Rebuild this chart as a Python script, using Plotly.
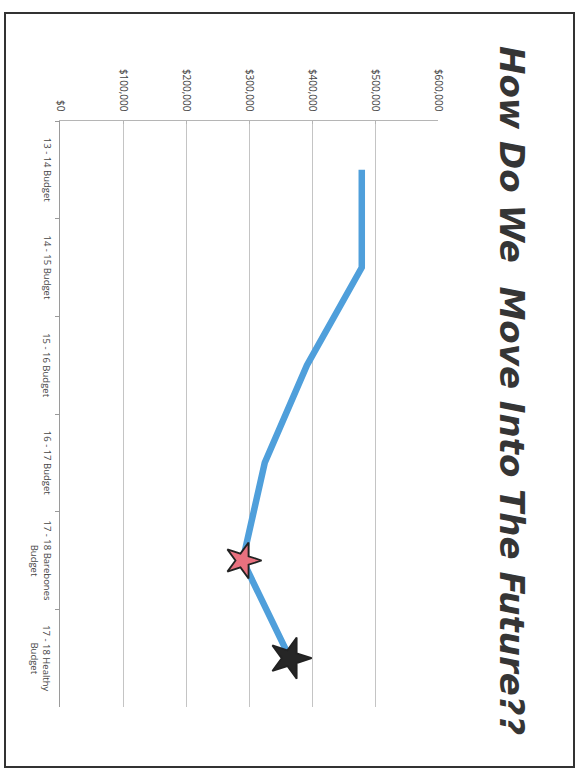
import plotly.graph_objects as go

categories = ["13 - 14 Budget", "14 - 15 Budget", "15 - 16 Budget", "16 - 17 Budget",
              "17 - 18 Barebones<br>Budget", "17 - 18 Healthy<br>Budget"]
budget = [479000, 479000, 392000, 325000, 290000, 365000]
star_categories = categories[4:]
star_values = budget[4:]
star_colors = ["#e8717f", "#262626"]
value_ticks = [0, 100000, 200000, 300000, 400000, 500000, 600000]
value_ticktext = ["$0", "$100,000", "$200,000", "$300,000", "$400,000", "$500,000", "$600,000"]
title_text = "How Do We  Move Into The Future??"

W_PAGE, H_PAGE = 581, 771
L, R, T, B = 60, 143, 121, 64
PW = W_PAGE - L - R
PH = H_PAGE - T - B

def px(x):
    return (x - L) / PW

def py(y):
    return 1 - (y - T) / PH

fig = go.Figure()
fig.add_trace(go.Scatter(
    x=budget, y=categories, mode="lines",
    line=dict(color="#4f9fdb", width=6.5),
    showlegend=False, hoverinfo="skip"))
fig.add_trace(go.Scatter(
    x=star_values, y=star_categories, mode="markers",
    marker=dict(symbol="star", size=[27, 31], color=star_colors, angle=90, opacity=1,
                line=dict(color="#222", width=1.8)),
    showlegend=False, hoverinfo="skip"))

fig.update_layout(
    width=W_PAGE, height=H_PAGE,
    margin=dict(l=L, r=R, t=T, b=B, autoexpand=False),
    paper_bgcolor="white", plot_bgcolor="white",
    font=dict(family="Open Sans", color="#444"),
    xaxis=dict(range=[0, 600000], side="top", tickvals=value_ticks, ticktext=value_ticktext,
               tickangle=90, tickfont=dict(size=10, color="#444"), ticklabelstandoff=5,
               showgrid=True, gridcolor="#c4c4c4", gridwidth=1,
               showline=True, linecolor="#b5b5b5", linewidth=1,
               ticks="inside", ticklen=3, tickcolor="#b5b5b5",
               zeroline=False, fixedrange=True),
    yaxis=dict(categoryorder="array", categoryarray=categories,
               range=[len(categories) - 0.5, -0.5], autorange=False,
               showticklabels=False,
               showline=True, linecolor="#9a9a9a", linewidth=1,
               ticks="outside", tickson="boundaries", ticklen=4, tickcolor="#9a9a9a",
               showgrid=False, zeroline=False, fixedrange=True),
)

# category labels, rotated like the rest of the page
for cat in categories:
    two_line = "<br>" in cat
    fig.add_annotation(
        text=cat, textangle=90, xref="paper", yref="y", x=px(41 if two_line else 47), y=cat,
        xanchor="center", yanchor="middle", showarrow=False, align="center",
        font=dict(family="Open Sans", size=9.5, color="#444"))

fig.add_annotation(
    text=title_text, textangle=90, xref="paper", yref="paper",
    x=px(512), y=py(390), xanchor="center", yanchor="middle", showarrow=False,
    font=dict(family="DejaVu Sans", size=34, color="#353535", weight="bold", style="italic"))

fig.add_shape(type="rect", xref="paper", yref="paper",
              x0=px(5), x1=px(574), y0=py(13), y1=py(767),
              line=dict(color="#333", width=2), fillcolor="rgba(0,0,0,0)", layer="above")

fig.write_html("out.html")
